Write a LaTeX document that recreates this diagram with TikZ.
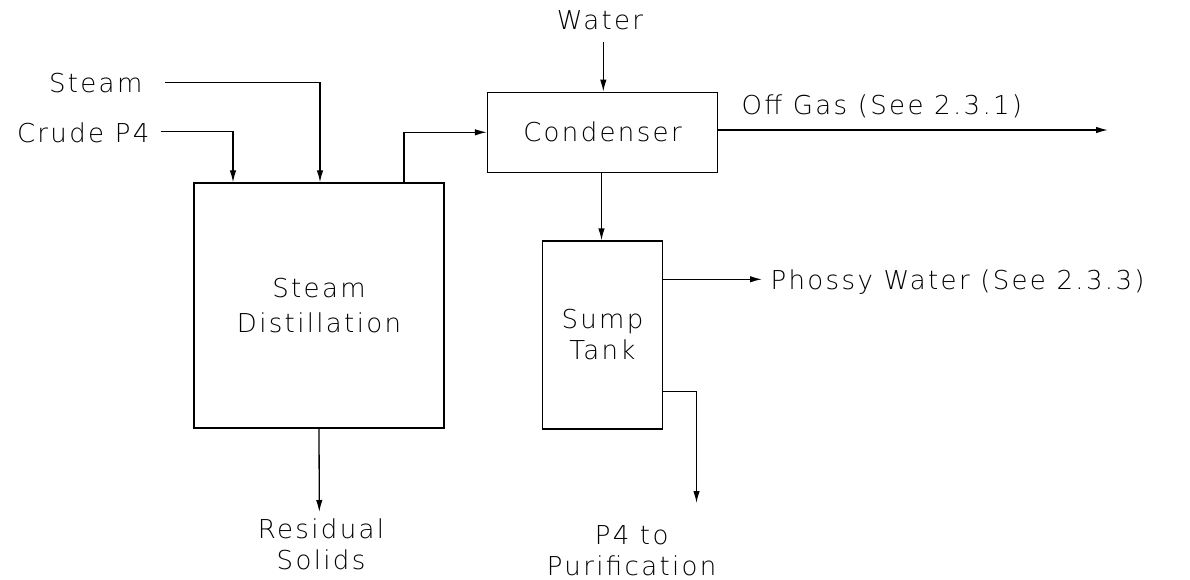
\documentclass[tikz,border=0pt]{standalone}
\usepackage{fontspec}
\newfontfamily\cad[LetterSpace=9]{DejaVu Sans ExtraLight}
\usetikzlibrary{arrows.meta}
\begin{document}
\begin{tikzpicture}[x=1pt,y=-1pt,
  font={\cad\fontsize{26}{31}\selectfont},
  line width=1.3pt,
  flow/.style={-{Latex[length=12pt,width=6.5pt]}},
  unit/.style={draw, inner sep=0pt, align=center},
  lbl/.style={inner sep=0pt, align=center}]
\useasboundingbox (0,0) rectangle (1190,580);
% boxes
\node[unit, minimum width=250pt, minimum height=245pt] (dist) at (319,305.5) {Steam\\[4pt]Distillation};
\node[unit, minimum width=230pt, minimum height=80pt] (cond) at (602.5,132.3) {\raisebox{-6pt}{Condenser}};
\node[unit, minimum width=120pt, minimum height=188pt] (sump) at (602.5,335) {Sump\\Tank};
% labels
\node[lbl, anchor=base east] (steam) at (143,92.5) {Steam};
\node[lbl, anchor=base east] (crude) at (150,142.5) {Crude P4};
\node[lbl, anchor=base] (water) at (600,29.5) {Water};
\node[lbl, anchor=base west] (offgas) at (741,115) {Off Gas (See 2.3.1)};
\node[lbl, anchor=base west] (phossy) at (770,289) {Phossy Water (See 2.3.3)};
\node[lbl, anchor=north] (resid) at (321,518) {Residual\\Solids};
\node[lbl, anchor=north east] (p4pur) at (717,525) {P4 to\\Purification};
% connector ends
\coordinate (steamStart) at (165,82.5);
\coordinate (crudeStart) at (160.5,131.7);
\coordinate (waterTop) at (603.3,41.7);
\coordinate (offEnd) at (1108,130);
\coordinate (phEnd) at (762,279.3);
\coordinate (p4Turn) at (696.5,391.7);
\coordinate (p4End) at (696.5,503);
\coordinate (resEnd) at (319.3,512);
% connectors
\draw[flow] (steamStart) -| ([xshift=1pt]dist.north);
\draw[flow] (crudeStart) -| ([xshift=-86pt]dist.north);
\draw[flow] ([xshift=85pt]dist.north) |- (cond.west);
\draw[flow] (waterTop) -- (waterTop |- cond.north);
\draw[flow] (cond.east |- offEnd) -- (offEnd);
\draw[flow] ([xshift=-1pt]cond.south) -- ([xshift=-1pt]sump.north);
\draw[flow] (sump.east |- phEnd) -- (phEnd);
\draw[flow] (sump.east |- p4Turn) -- (p4Turn) -- (p4End);
\draw[flow] (dist.south) -- (resEnd);
\end{tikzpicture}
\end{document}
